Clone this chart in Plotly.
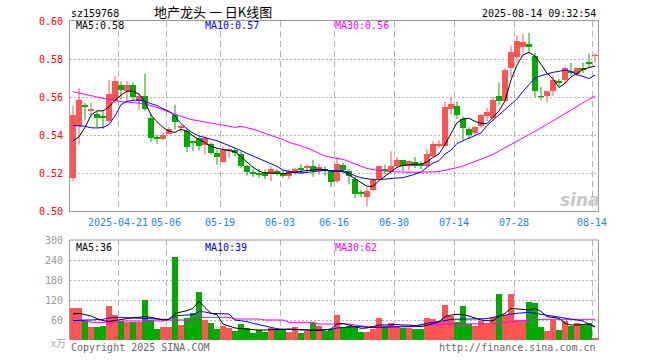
import plotly.graph_objects as go

dates = (
    ["2025-04-%02d" % d for d in [9, 10, 11, 14, 15, 16, 17, 18, 21, 22, 23, 24, 25, 28, 29, 30]]
    + ["2025-05-%02d" % d for d in [6, 7, 8, 9, 12, 13, 14, 15, 16, 19, 20, 21, 22, 23, 26, 27, 28, 29, 30]]
    + ["2025-06-%02d" % d for d in [3, 4, 5, 6, 9, 10, 11, 12, 13, 16, 17, 18, 19, 20, 23, 24, 25, 26, 27, 30]]
    + ["2025-07-%02d" % d for d in [1, 2, 3, 4, 7, 8, 9, 10, 11, 14, 15, 16, 17, 18, 21, 22, 23, 24, 25, 28, 29, 30, 31]]
    + ["2025-08-%02d" % d for d in [1, 4, 5, 6, 7, 8, 11, 12, 13, 14]]
)

open_ = [0.5174, 0.5446, 0.5560, 0.5525, 0.5512, 0.5495, 0.5472, 0.5581, 0.5665, 0.5630,
         0.5665, 0.5577, 0.5607, 0.5488, 0.5386, 0.5381, 0.5405, 0.5504, 0.5442, 0.5423,
         0.5363, 0.5382, 0.5349, 0.5354, 0.5305, 0.5260, 0.5319, 0.5323, 0.5302, 0.5235,
         0.5198, 0.5193, 0.5205, 0.5196, 0.5205, 0.5200, 0.5182, 0.5200, 0.5219, 0.5226,
         0.5235, 0.5209, 0.5215, 0.5209, 0.5156, 0.5244, 0.5209, 0.5168, 0.5093, 0.5074,
         0.5109, 0.5168, 0.5215, 0.5209, 0.5235, 0.5270, 0.5235, 0.5258, 0.5249, 0.5239,
         0.5291, 0.5344, 0.5344, 0.5537, 0.5554, 0.5486, 0.5432, 0.5411, 0.5449, 0.5498,
         0.5489, 0.5607, 0.5577, 0.5753, 0.5811, 0.5863, 0.5881, 0.5818, 0.5602, 0.5604,
         0.5630, 0.5675, 0.5688, 0.5731, 0.5723, 0.5749, 0.5777, 0.5816]
high = [0.5554, 0.5647, 0.5568, 0.5572, 0.5525, 0.5525, 0.5691, 0.5709, 0.5682, 0.5682,
        0.5677, 0.5621, 0.5723, 0.5511, 0.5402, 0.5414, 0.5442, 0.5560, 0.5454, 0.5432,
        0.5363, 0.5393, 0.5393, 0.5361, 0.5323, 0.5340, 0.5332, 0.5332, 0.5314, 0.5244,
        0.5221, 0.5221, 0.5219, 0.5235, 0.5221, 0.5214, 0.5221, 0.5226, 0.5249, 0.5247,
        0.5270, 0.5249, 0.5235, 0.5214, 0.5284, 0.5253, 0.5221, 0.5179, 0.5112, 0.5121,
        0.5174, 0.5235, 0.5244, 0.5314, 0.5284, 0.5270, 0.5261, 0.5284, 0.5261, 0.5326,
        0.5367, 0.5372, 0.5577, 0.5600, 0.5577, 0.5498, 0.5442, 0.5446, 0.5512, 0.5542,
        0.5600, 0.5677, 0.5753, 0.5870, 0.5923, 0.5933, 0.5937, 0.5832, 0.5653, 0.5630,
        0.5712, 0.5695, 0.5761, 0.5779, 0.5753, 0.5782, 0.5828, 0.5832]
low = [0.5156, 0.5349, 0.5481, 0.5498, 0.5442, 0.5432, 0.5465, 0.5568, 0.5586, 0.5577,
       0.5586, 0.5530, 0.5525, 0.5361, 0.5354, 0.5372, 0.5402, 0.5428, 0.5411, 0.5309,
       0.5314, 0.5319, 0.5296, 0.5296, 0.5244, 0.5256, 0.5279, 0.5288, 0.5226, 0.5186,
       0.5179, 0.5174, 0.5168, 0.5156, 0.5186, 0.5174, 0.5168, 0.5191, 0.5196, 0.5209,
       0.5179, 0.5191, 0.5186, 0.5126, 0.5147, 0.5200, 0.5140, 0.5068, 0.5074, 0.5025,
       0.5104, 0.5165, 0.5191, 0.5200, 0.5226, 0.5209, 0.5209, 0.5226, 0.5221, 0.5232,
       0.5284, 0.5332, 0.5340, 0.5507, 0.5484, 0.5375, 0.5379, 0.5402, 0.5437, 0.5472,
       0.5477, 0.5560, 0.5577, 0.5705, 0.5782, 0.5832, 0.5832, 0.5600, 0.5582, 0.5572,
       0.5604, 0.5656, 0.5670, 0.5712, 0.5709, 0.5726, 0.5761, 0.5782]
close = [0.5507, 0.5586, 0.5547, 0.5537, 0.5488, 0.5491, 0.5618, 0.5686, 0.5635, 0.5665,
         0.5600, 0.5607, 0.5537, 0.5384, 0.5384, 0.5402, 0.5432, 0.5467, 0.5446, 0.5335,
         0.5361, 0.5344, 0.5384, 0.5305, 0.5282, 0.5319, 0.5326, 0.5305, 0.5235, 0.5204,
         0.5196, 0.5191, 0.5182, 0.5221, 0.5203, 0.5186, 0.5209, 0.5221, 0.5217, 0.5239,
         0.5209, 0.5232, 0.5214, 0.5151, 0.5249, 0.5218, 0.5182, 0.5091, 0.5091, 0.5104,
         0.5165, 0.5235, 0.5214, 0.5235, 0.5270, 0.5235, 0.5261, 0.5235, 0.5235, 0.5302,
         0.5354, 0.5354, 0.5546, 0.5565, 0.5507, 0.5437, 0.5402, 0.5442, 0.5507, 0.5521,
         0.5586, 0.5577, 0.5744, 0.5837, 0.5893, 0.5888, 0.5863, 0.5630, 0.5600, 0.5630,
         0.5688, 0.5674, 0.5753, 0.5730, 0.5753, 0.5747, 0.5775, 0.5818]

ma5 = [0.5370, 0.5390, 0.5440, 0.5505, 0.5527, 0.5527, 0.5548, 0.5583, 0.5610, 0.5630,
       0.5631, 0.5615, 0.5575, 0.5505, 0.5470, 0.5440, 0.5420, 0.5414, 0.5430, 0.5420,
       0.5395, 0.5378, 0.5360, 0.5340, 0.5330, 0.5323, 0.5318, 0.5312, 0.5285, 0.5255,
       0.5230, 0.5210, 0.5200, 0.5200, 0.5198, 0.5196, 0.5200, 0.5205, 0.5210, 0.5213,
       0.5216, 0.5220, 0.5218, 0.5210, 0.5209, 0.5208, 0.5190, 0.5172, 0.5150, 0.5130,
       0.5130, 0.5160, 0.5185, 0.5205, 0.5230, 0.5240, 0.5244, 0.5246, 0.5247, 0.5258,
       0.5282, 0.5300, 0.5350, 0.5405, 0.5465, 0.5485, 0.5488, 0.5472, 0.5462, 0.5460,
       0.5495, 0.5527, 0.5580, 0.5690, 0.5768, 0.5822, 0.5835, 0.5815, 0.5772, 0.5725,
       0.5695, 0.5650, 0.5672, 0.5705, 0.5725, 0.5745, 0.5755, 0.5762]
ma10 = [0.5450, 0.5448, 0.5446, 0.5438, 0.5437, 0.5440, 0.5455, 0.5500, 0.5560, 0.5577,
        0.5583, 0.5583, 0.5578, 0.5565, 0.5555, 0.5538, 0.5525, 0.5500, 0.5460, 0.5433,
        0.5410, 0.5395, 0.5385, 0.5378, 0.5370, 0.5358, 0.5345, 0.5332, 0.5318, 0.5303,
        0.5290, 0.5276, 0.5262, 0.5248, 0.5235, 0.5215, 0.5207, 0.5202, 0.5200, 0.5203,
        0.5208, 0.5212, 0.5214, 0.5213, 0.5212, 0.5212, 0.5200, 0.5185, 0.5175, 0.5168,
        0.5165, 0.5165, 0.5168, 0.5174, 0.5174, 0.5175, 0.5185, 0.5195, 0.5204, 0.5230,
        0.5252, 0.5265, 0.5300, 0.5320, 0.5355, 0.5370, 0.5384, 0.5398, 0.5411, 0.5450,
        0.5478, 0.5507, 0.5530, 0.5558, 0.5590, 0.5630, 0.5668, 0.5700, 0.5712, 0.5723,
        0.5730, 0.5735, 0.5742, 0.5735, 0.5718, 0.5708, 0.5697, 0.5715]
ma30 = [0.5628, 0.5622, 0.5615, 0.5608, 0.5600, 0.5593, 0.5586, 0.5580, 0.5576, 0.5573,
        0.5571, 0.5568, 0.5563, 0.5556, 0.5545, 0.5532, 0.5520, 0.5508, 0.5498, 0.5488,
        0.5480, 0.5474, 0.5468, 0.5462, 0.5456, 0.5450, 0.5442, 0.5440, 0.5446, 0.5440,
        0.5430, 0.5420, 0.5410, 0.5400, 0.5388, 0.5376, 0.5362, 0.5350, 0.5342, 0.5332,
        0.5318, 0.5300, 0.5290, 0.5282, 0.5278, 0.5272, 0.5260, 0.5248, 0.5235, 0.5224,
        0.5218, 0.5213, 0.5210, 0.5207, 0.5205, 0.5204, 0.5204, 0.5204, 0.5204, 0.5205,
        0.5206, 0.5208, 0.5214, 0.5220, 0.5228, 0.5237, 0.5248, 0.5260, 0.5272, 0.5285,
        0.5298, 0.5315, 0.5332, 0.5350, 0.5368, 0.5385, 0.5402, 0.5420, 0.5437, 0.5456,
        0.5474, 0.5492, 0.5510, 0.5528, 0.5550, 0.5570, 0.5588, 0.5605]

volume = [97, 97, 58, 39, 39, 42, 102, 75, 58, 55,
          55, 55, 120, 60, 33, 39, 39, 249, 45, 65,
          80, 144, 60, 51, 33, 42, 36, 27, 48, 36,
          21, 30, 24, 36, 30, 30, 24, 39, 21, 27,
          51, 42, 27, 33, 75, 39, 42, 42, 24, 24,
          33, 66, 39, 51, 39, 36, 36, 33, 33, 66,
          63, 54, 105, 72, 54, 102, 48, 42, 57, 48,
          69, 138, 75, 138, 60, 60, 114, 111, 39, 27,
          60, 30, 57, 42, 51, 45, 51, 6]
vma5 = [78, 80, 76, 72, 64, 58, 56, 58, 60, 64,
        67, 68, 70, 68, 64, 60, 62, 80, 84, 88,
        95, 117, 97, 80, 76, 48, 42, 36, 34, 32,
        31, 30, 30, 30, 31, 32, 33, 32, 31, 29,
        28, 28, 30, 33, 48, 50, 45, 40, 35, 36,
        40, 45, 45, 46, 46, 45, 45, 42, 40, 44,
        50, 55, 70, 75, 77, 76, 72, 66, 60, 58,
        57, 72, 80, 95, 94, 92, 90, 95, 86, 70,
        68, 65, 50, 45, 45, 47, 48, 40]
vma10 = [58, 60, 60, 60, 60, 62, 66, 68, 68, 67,
         66, 65, 63, 62, 62, 62, 62, 72, 74, 75,
         76, 85, 84, 80, 80, 80, 78, 60, 58, 55,
         50, 46, 42, 37, 34, 32, 31, 30, 30, 30,
         30, 30, 30, 32, 36, 38, 40, 40, 40, 38,
         37, 38, 39, 40, 40, 40, 40, 42, 46, 50,
         52, 55, 58, 62, 62, 63, 63, 63, 63, 64,
         68, 72, 75, 78, 80, 82, 83, 80, 77, 75,
         73, 70, 66, 62, 60, 57, 47, 39]
vma30 = [58, 58, 58, 53, 53, 53, 53, 53, 57, 57,
         57, 57, 57, 57, 57, 57, 60, 60, 60, 60,
         60, 68, 68, 68, 68, 68, 68, 63, 63, 63,
         63, 63, 60, 60, 60, 60, 53, 53, 53, 53,
         53, 48, 48, 48, 50, 50, 48, 45, 42, 40,
         40, 40, 40, 40, 40, 40, 40, 40, 45, 45,
         46, 47, 48, 48, 48, 48, 48, 49, 49, 49,
         49, 51, 53, 55, 57, 59, 60, 62, 62, 62,
         62, 62, 62, 62, 62, 62, 62, 62]

tick_dates = ["2025-04-21", "2025-05-06", "2025-05-19", "2025-06-03", "2025-06-16",
              "2025-06-30", "2025-07-14", "2025-07-28", "2025-08-14"]
tick_text = ["2025-04-21", "05-06", "05-19", "06-03", "06-16", "06-30", "07-14", "07-28", "08-14"]
price_ticks = [0.50, 0.52, 0.54, 0.56, 0.58, 0.60]
vol_ticks = [60, 120, 180, 240, 300]

RED = "#ff5555"
GREEN = "#00aa00"
MONO = "DejaVu Sans Mono"

n = len(dates)
xs = list(range(n))
up = [c >= o for o, c in zip(open_, close)]
colors = [RED if u else GREEN for u in up]
MIN_BODY = 0.0005
body_base = [min(o, c) for o, c in zip(open_, close)]
body_h = [max(abs(c - o), MIN_BODY) for o, c in zip(open_, close)]

fig = go.Figure()

# wicks
for flag, col in [(True, RED), (False, GREEN)]:
    wx, wy = [], []
    for i in xs:
        if up[i] == flag:
            wx += [i, i, None]
            wy += [low[i], high[i], None]
    fig.add_trace(go.Scatter(x=wx, y=wy, mode="lines", line=dict(color=col, width=1),
                             hoverinfo="skip", showlegend=False, xaxis="x", yaxis="y"))

fig.add_trace(go.Bar(x=xs, y=body_h, base=body_base, marker=dict(color=colors, line=dict(width=0)),
                     width=0.84, showlegend=False, xaxis="x", yaxis="y"))

for arr, col in [(ma30, "#ff00ff"), (ma10, "#0000ff"), (ma5, "#000000")]:
    fig.add_trace(go.Scatter(x=xs, y=arr, mode="lines", line=dict(color=col, width=1),
                             showlegend=False, xaxis="x", yaxis="y"))

fig.add_trace(go.Bar(x=xs, y=volume, marker=dict(color=colors, line=dict(width=0)), width=0.84,
                     showlegend=False, xaxis="x2", yaxis="y2"))
for arr, col in [(vma30, "#ff00ff"), (vma10, "#0000ff"), (vma5, "#000000")]:
    fig.add_trace(go.Scatter(x=xs, y=arr, mode="lines", line=dict(color=col, width=1),
                             showlegend=False, xaxis="x2", yaxis="y2"))

tickvals = [dates.index(d) - 0.5 for d in tick_dates]

L, R, T, B = 70, 62, 21, 20
W, H = 660, 360
PW, PH = W - L - R, H - T - B


def px(x):
    return (x - L) / PW


def py(y):
    return 1 - (y - T) / PH


main_bottom = py(211)
vol_top = py(240)

fig.update_layout(
    width=W, height=H, margin=dict(l=L, r=R, t=T, b=B),
    paper_bgcolor="white", plot_bgcolor="white",
    bargap=0, showlegend=False,
    font=dict(family=MONO, size=10, color="#000"),
    xaxis=dict(domain=[0, 1], range=[-0.5, n - 0.5], anchor="y",
               tickmode="array", tickvals=tickvals, ticktext=tick_text,
               tickfont=dict(color="#1a87d8", size=10, family=MONO),
               showgrid=True, gridcolor="#b4b4b4", griddash="6px,4px", gridwidth=1,
               showline=True, linecolor="#999999", linewidth=1, mirror=True,
               ticks="", zeroline=False, ticklabelstandoff=2),
    yaxis=dict(domain=[main_bottom, 1], range=[0.50, 0.60], anchor="x",
               tickmode="array", tickvals=price_ticks, tickformat=".2f",
               tickfont=dict(color="#ff0000", size=10, family=MONO),
               showgrid=True, gridcolor="#b4b4b4", griddash="2px,2px", gridwidth=1,
               showline=True, linecolor="#999999", linewidth=1, mirror=True,
               ticks="", zeroline=False, ticklabelstandoff=4),
    xaxis2=dict(domain=[0, 1], range=[-0.5, n - 0.5], anchor="y2",
                tickmode="array", tickvals=tickvals, showticklabels=False,
                showgrid=True, gridcolor="#b4b4b4", griddash="6px,4px", gridwidth=1,
                showline=False, ticks="", zeroline=False),
    yaxis2=dict(domain=[0, vol_top], range=[0, 300], anchor="x2",
                tickmode="array", tickvals=vol_ticks,
                tickfont=dict(color="#999999", size=10, family=MONO),
                showgrid=True, gridcolor="#b4b4b4", griddash="2px,2px", gridwidth=1,
                showline=True, linecolor="#999999", linewidth=1, mirror=True,
                ticks="", zeroline=False, ticklabelstandoff=4),
    shapes=[dict(type="line", xref="paper", yref="paper", x0=0, x1=1, y0=vol_top, y1=vol_top,
                 line=dict(color="#999999", width=1))],
)


def ann(text, x, y, xanchor="left", color="#000", size=10, family=MONO, **kw):
    fig.add_annotation(text=text, x=px(x), y=py(y), xref="paper", yref="paper",
                       xanchor=xanchor, yanchor="middle", showarrow=False,
                       font=dict(color=color, size=size, family=family, **kw))


ann("sz159768", 69, 13)
ann("地产龙头 一 日K线图", 213, 12, xanchor="center", size=13, family="Noto Sans CJK SC")
ann("2025-08-14 09:32:54", 598, 13, xanchor="right")
ann("MA5:0.58", 74, 26)
ann("MA10:0.57", 203, 26, color="#0000ff")
ann("MA30:0.56", 333, 26, color="#ff00ff")
ann("MA5:36", 74, 247)
ann("MA10:39", 203, 247, color="#0000ff")
ann("MA30:62", 333, 247, color="#ff00ff")
ann("Copyright 2025 SINA.COM", 69, 347, color="#666666")
ann("http://finance.sina.com.cn", 598, 347, xanchor="right", color="#666666")
ann("x万", 49, 342, color="#aaaaaa", family="Noto Sans CJK SC")
ann("sina", 580, 200, xanchor="center", color="#c8c8c8", size=17, family="DejaVu Sans",
    style="italic", weight="bold")

fig.write_html("out.html")
